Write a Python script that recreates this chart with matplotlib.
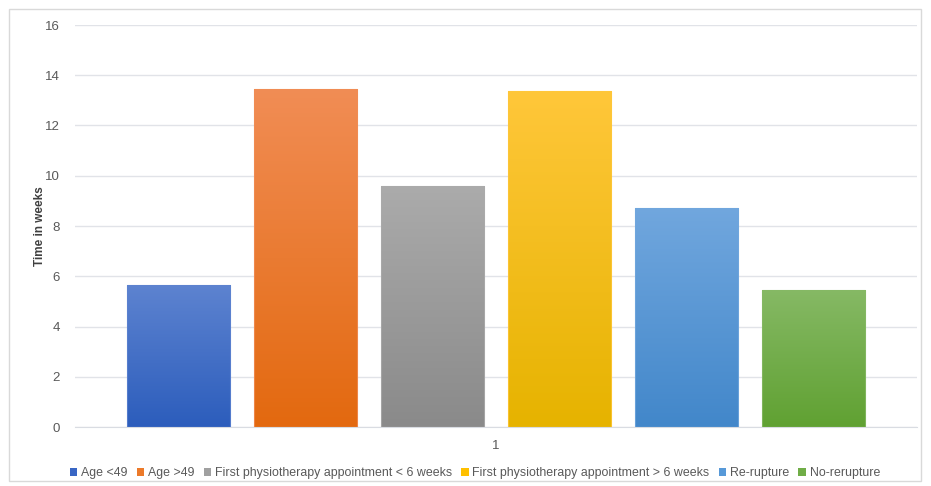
import numpy as np
import matplotlib
matplotlib.use("Agg")
import matplotlib.pyplot as plt
from matplotlib.patches import Patch, Rectangle
from matplotlib.colors import LinearSegmentedColormap

# Chart data
labels = ["Age <49", "Age >49", "First physiotherapy appointment < 6 weeks",
          "First physiotherapy appointment > 6 weeks", "Re-rupture", "No-rerupture"]
values = [5.65, 13.47, 9.6, 13.37, 8.73, 5.47]
top_colors = ["#5D83D0", "#F18D55", "#ABABAB", "#FFC73A", "#71A7DE", "#86B965"]
bottom_colors = ["#2C5DBC", "#E3690F", "#8A8A8A", "#E6B300", "#4287CA", "#60A132"]
legend_colors = ["#3966C4", "#EC7A2A", "#A0A0A0", "#FFC000", "#5799D8", "#70AD47"]

plt.rcParams['font.family'] = ['Liberation Sans', 'DejaVu Sans']

fig = plt.figure(figsize=(9.31, 4.86), dpi=100)
ax = fig.add_axes([75 / 931, 1 - 427 / 486, 842 / 931, 402 / 486])

x = np.arange(len(values))
width = 0.81
bars = ax.bar(x, values, width, color="none", edgecolor="none", zorder=2)

# Vertical gradient for each bar, lighter on top
grad = np.linspace(0, 1, 256).reshape(-1, 1)
for i, b in enumerate(bars):
    cmap = LinearSegmentedColormap.from_list("g%d" % i, [bottom_colors[i], top_colors[i]])
    x0, y0 = b.get_x(), b.get_y()
    w, h = b.get_width(), b.get_height()
    im = ax.imshow(grad, cmap=cmap, aspect="auto", origin="lower",
                   extent=(x0, x0 + w, y0, y0 + h), zorder=2)
    clip = Rectangle((x0, y0), w, h, transform=ax.transData)
    im.set_clip_path(clip)
    ax.add_patch(Rectangle((x0, y0), w, h, fill=False, edgecolor=top_colors[i],
                           linewidth=0.8, alpha=0.8, zorder=3))

ax.set_xlim(-0.81, 5.81)
ax.set_ylim(0, 16)
ax.set_yticks(range(0, 17, 2))
ax.set_xticks([2.5])
ax.set_xticklabels(["1"])
ax.yaxis.grid(True, color="#E1E3E8", linewidth=1.0, zorder=0)
ax.set_axisbelow(True)
for s in ["top", "right", "left"]:
    ax.spines[s].set_visible(False)
ax.spines["bottom"].set_color("#D9DCE2")
ax.tick_params(axis="both", length=0, colors="#595959", labelsize=9.5)
ax.tick_params(axis="y", pad=11)
ax.tick_params(axis="x", pad=9)

ax.set_ylabel("Time in weeks", fontsize=8.5, fontweight="bold", color="#404040")
ax.yaxis.set_label_coords(-0.035, 0.5)

handles = [Patch(facecolor=c, edgecolor="none") for c in legend_colors]
fig.legend(handles, labels, loc="center", bbox_to_anchor=(475 / 931, 1 - 473 / 486),
           ncol=6, frameon=False, fontsize=8.9, handlelength=0.6, handleheight=0.6,
           handletextpad=0.3, columnspacing=0.75, labelcolor="#595959")

# light frame around the chart
fig.patches.append(Rectangle((9 / 931, 5 / 486), 912 / 931, 472 / 486, fill=False,
                             edgecolor="#D9D9D9", linewidth=1, transform=fig.transFigure))

fig.savefig("out.png", dpi=100)
